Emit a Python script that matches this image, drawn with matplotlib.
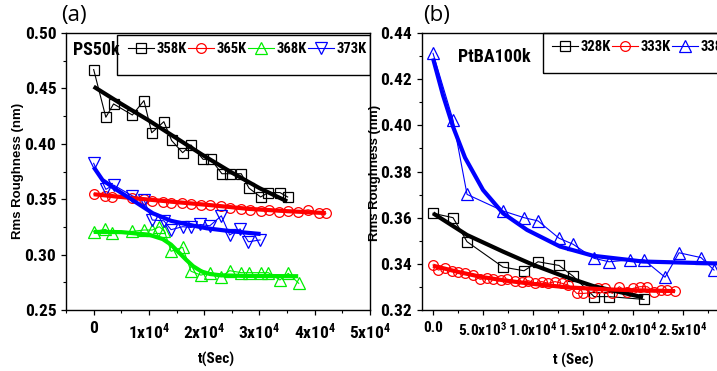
import matplotlib
matplotlib.use("Agg")
import matplotlib.pyplot as plt
from matplotlib import font_manager
from matplotlib.patches import Rectangle
from matplotlib.ticker import MultipleLocator, FormatStrFormatter

# the chart uses a narrow bold face; take the first condensed one we can find
fonts = font_manager.fontManager.ttflist
narrow, stretch = None, 'normal'
for want in ['Liberation Sans Narrow', 'Arial Narrow', 'Roboto Condensed', 'Open Sans Condensed',
             'Noto Sans', 'DejaVu Sans', 'Open Sans', 'Roboto']:
    hit = [f for f in fonts if f.name == want and
           (f.stretch in ('condensed', 'semi-condensed', 'extra-condensed') or
            (isinstance(f.stretch, int) and f.stretch < 100) or 'Narrow' in f.name or 'Condensed' in f.name)]
    if hit:
        narrow, stretch = want, 'condensed'
        break
if narrow is None:
    narrow = 'Liberation Sans'
k = 1.0 if stretch == 'condensed' else 0.88   # shrink a bit if only normal width is there

plt.rcParams['font.family'] = [narrow, 'DejaVu Sans']
plt.rcParams['font.weight'] = 'bold'
plt.rcParams['font.stretch'] = stretch
plt.rcParams['mathtext.fontset'] = 'custom'
for key in ('mathtext.rm', 'mathtext.it', 'mathtext.bf'):
    plt.rcParams[key] = narrow + ':weight=bold:stretch=' + stretch

# ---- panel (a): PS50k ----
t358 = [0, 2200, 3600, 7000, 9100, 10500, 12700, 14100, 16100, 17600, 19800, 21200,
        23200, 24600, 26700, 28100, 30200, 31600, 33700, 35100]
r358 = [0.467, 0.424, 0.436, 0.426, 0.439, 0.410, 0.420, 0.403, 0.392, 0.399, 0.386, 0.386,
        0.373, 0.373, 0.373, 0.360, 0.352, 0.356, 0.356, 0.352]
t365 = [0, 2100, 3400, 7000, 9100, 10600, 12500, 14000, 15900, 17600, 19400, 21000,
        23000, 24600, 26700, 28200, 30300, 31800, 33500, 35200, 37000, 38800, 40800, 42000]
r365 = [0.3547, 0.3528, 0.3516, 0.3508, 0.3499, 0.3487, 0.3478, 0.3469, 0.3463, 0.3457, 0.3450, 0.3447,
        0.3435, 0.3425, 0.3412, 0.3406, 0.3398, 0.3400, 0.3388, 0.3390, 0.3388, 0.3405, 0.3378, 0.3373]
t368 = [0, 2100, 3400, 7000, 9100, 10600, 11900, 12800, 14000, 16100, 17600, 19400,
        21100, 23100, 24600, 26700, 28100, 30200, 31600, 33700, 35200, 37100]
r368 = [0.3207, 0.3228, 0.3192, 0.3210, 0.3222, 0.3222, 0.3252, 0.3210, 0.3030, 0.3066, 0.2850, 0.2815,
        0.2837, 0.2801, 0.2855, 0.2837, 0.2837, 0.2837, 0.2837, 0.2771, 0.2831, 0.2741]
t373 = [0, 2200, 3600, 7000, 9100, 10600, 12700, 14000, 16100, 17600, 19300, 21000,
        23100, 24600, 26500, 28000, 30100]
r373 = [0.3824, 0.3589, 0.3628, 0.3530, 0.3493, 0.3312, 0.3305, 0.3225, 0.3252, 0.3245, 0.3272, 0.3260,
        0.3350, 0.3177, 0.3232, 0.3116, 0.3132]

# fitted curves
f358_t = [0, 5000, 10000, 15000, 20000, 25000, 30000, 35000]
f358_r = [0.4516, 0.4360, 0.4210, 0.4050, 0.3890, 0.3740, 0.3600, 0.3480]
f365_t = [0, 7000, 14000, 21000, 28000, 35000, 42000]
f365_r = [0.3545, 0.3510, 0.3478, 0.3447, 0.3413, 0.3392, 0.3375]
f368_t = [0, 5000, 10000, 12500, 14000, 15500, 16700, 18000, 19500, 21000, 23000, 27000, 37000]
f368_r = [0.3205, 0.3203, 0.3180, 0.3140, 0.3090, 0.3015, 0.2955, 0.2895, 0.2848, 0.2825, 0.2813, 0.2808, 0.2805]
f373_t = [0, 1600, 4000, 7000, 10700, 14000, 16700, 20400, 25000, 30200]
f373_r = [0.3790, 0.3673, 0.3590, 0.3493, 0.3373, 0.3305, 0.3275, 0.3238, 0.3210, 0.3186]

# ---- panel (b): PtBA100k ----
t328 = [0, 2000, 3400, 7000, 9100, 10500, 12600, 14000, 16100, 17600, 21100]
r328 = [0.3619, 0.3600, 0.3496, 0.3386, 0.3370, 0.3409, 0.3393, 0.3347, 0.3258, 0.3258, 0.3246]
t333 = [0, 530, 1200, 1870, 2530, 3200, 3970, 4700, 5370, 6030, 6770, 7430, 8200, 8870,
        9530, 10200, 10870, 11530, 12200, 12870, 13530, 14370, 15030, 15870, 16530, 17200,
        17930, 18630, 19370, 20030, 20700, 21430, 22100, 22770, 23430, 24200]
r333 = [0.3395, 0.3373, 0.3381, 0.3370, 0.3363, 0.3359, 0.3352, 0.3333, 0.3337, 0.3333, 0.3330, 0.3333,
        0.3327, 0.3323, 0.3327, 0.3318, 0.3323, 0.3316, 0.3323, 0.3316, 0.3308, 0.3272, 0.3272, 0.3275,
        0.3294, 0.3294, 0.3272, 0.3301, 0.3279, 0.3294, 0.3301, 0.3301, 0.3279, 0.3287, 0.3285, 0.3283]
t338 = [0, 2000, 3400, 7000, 9100, 10500, 12600, 14000, 16100, 17600, 19700, 21100,
        23200, 24600, 26800, 28100]
r338 = [0.4312, 0.4023, 0.3701, 0.3629, 0.3600, 0.3586, 0.3511, 0.3485, 0.3424, 0.3409, 0.3417, 0.3417,
        0.3342, 0.3448, 0.3427, 0.3373]

f328_t = [0, 3400, 7000, 10000, 12700, 16000, 21000]
f328_r = [0.3619, 0.3525, 0.3453, 0.3396, 0.3352, 0.3304, 0.3255]
f333_t = [0, 2500, 5000, 7500, 10000, 13500, 17000, 20500, 24200]
f333_r = [0.3392, 0.3365, 0.3342, 0.3326, 0.3313, 0.3298, 0.3290, 0.3285, 0.3282]
f338_t = [0, 1000, 2000, 3200, 5000, 7000, 9400, 12700, 16000, 21000, 28000, 30000]
f338_r = [0.4290, 0.4130, 0.3994, 0.3860, 0.3720, 0.3619, 0.3547, 0.3475, 0.3435, 0.3410, 0.3402, 0.3401]

xt_a = [0, 10000, 20000, 30000, 40000, 50000]
xl_a = ['0', '1x10$^4$', '2x10$^4$', '3x10$^4$', '4x10$^4$', '5x10$^4$']
xt_b = [0, 5000, 10000, 15000, 20000, 25000]
xl_b = ['0.0', '5.0x10$^3$', '1.0x10$^4$', '1.5x10$^4$', '2.0x10$^4$', '2.5x10$^4$']

fig = plt.figure(figsize=(7.17, 3.71), dpi=100)
ax1 = fig.add_axes([0.0921, 0.1644, 0.424, 0.7466])
ax2 = fig.add_axes([0.5886, 0.1644, 0.424, 0.7466])


def series(ax, t, r, c, m, ms):
    return ax.plot(t, r, color=c, lw=0.8, marker=m, ms=ms, mfc='none', mec=c, mew=0.9, zorder=2)[0]


def fit(ax, t, r, c):
    ax.plot(t, r, color=c, lw=3.0, solid_capstyle='butt', zorder=3)


h = []
h.append(series(ax1, t358, r358, 'black', 's', 6.5))
h.append(series(ax1, t365, r365, 'red', 'o', 7))
h.append(series(ax1, t368, r368, '#00ee00', '^', 8))
h.append(series(ax1, t373, r373, 'blue', 'v', 8))
fit(ax1, f358_t, f358_r, 'black')
fit(ax1, f365_t, f365_r, 'red')
fit(ax1, f368_t, f368_r, '#00ee00')
fit(ax1, f373_t, f373_r, 'blue')

g = []
g.append(series(ax2, t328, r328, 'black', 's', 6.5))
g.append(series(ax2, t333, r333, 'red', 'o', 7))
g.append(series(ax2, t338, r338, 'blue', '^', 8))
fit(ax2, f328_t, f328_r, 'black')
fit(ax2, f333_t, f333_r, 'red')
fit(ax2, f338_t, f338_r, 'blue')

ax1.set_xlim(-5000, 50000)
ax1.set_ylim(0.25, 0.50)
ax1.set_xticks(xt_a)
ax1.set_xticklabels(xl_a)
ax1.yaxis.set_major_locator(MultipleLocator(0.05))
ax1.yaxis.set_minor_locator(MultipleLocator(0.025))
ax1.xaxis.set_minor_locator(MultipleLocator(5000))
ax1.yaxis.set_major_formatter(FormatStrFormatter('%.2f'))

ax2.set_xlim(-1100, 29300)
ax2.set_ylim(0.32, 0.44)
ax2.set_xticks(xt_b)
ax2.set_xticklabels(xl_b)
ax2.yaxis.set_major_locator(MultipleLocator(0.02))
ax2.yaxis.set_minor_locator(MultipleLocator(0.01))
ax2.xaxis.set_minor_locator(MultipleLocator(2500))
ax2.yaxis.set_major_formatter(FormatStrFormatter('%.2f'))

for ax in (ax1, ax2):
    for s in ax.spines.values():
        s.set_linewidth(1.0)
    ax.tick_params(which='major', direction='out', length=3.5, width=0.9, labelsize=12.5 * k, pad=3.5)
    ax.tick_params(which='minor', direction='out', length=2, width=0.8)
    ax.tick_params(axis='x', which='major', pad=4.5)
# the (b) time labels are long, keep them from running together
ax2.tick_params(axis='x', which='major', labelsize=11 * k)

# legends with their own box
leg1 = ax1.legend(handles=h, labels=['358K', '365K', '368K', '373K'], ncol=4, frameon=False,
                  loc='center left', bbox_to_anchor=(0.204, 0.942), borderpad=0, borderaxespad=0,
                  handlelength=1.75, handletextpad=0.2, columnspacing=0.1, fontsize=10.5 * k)
ax1.add_patch(Rectangle((0.168, 0.848), 0.832, 0.145, transform=ax1.transAxes, fill=False,
                        lw=1.0, ec='black', zorder=5))
leg2 = ax2.legend(handles=g, labels=['328K', '333K', '338K'], ncol=3, frameon=False,
                  loc='center left', bbox_to_anchor=(0.428, 0.949), borderpad=0, borderaxespad=0,
                  handlelength=1.75, handletextpad=0.2, columnspacing=0.1, fontsize=10.5 * k)
ax2.add_patch(Rectangle((0.398, 0.856), 0.8, 0.144, transform=ax2.transAxes, fill=False,
                        lw=1.0, ec='black', zorder=5, clip_on=False))

ax1.text(0.023, 0.939, 'PS50k', transform=ax1.transAxes, fontsize=13 * k, fontweight='bold', va='center')
ax2.text(0.118, 0.913, 'PtBA100k', transform=ax2.transAxes, fontsize=13 * k, fontweight='bold', va='center')

fig.text(61 / 717, 1 - 16 / 371, '(a)', fontsize=16, fontweight='normal', fontstretch='normal',
         family=['Open Sans', 'DejaVu Sans'], va='center')
fig.text(423 / 717, 1 - 16 / 371, '(b)', fontsize=16, fontweight='normal', fontstretch='normal',
         family=['Open Sans', 'DejaVu Sans'], va='center')

fig.text(18 / 717, 1 - 171 / 371, 'Rms Roughness (nm)', rotation=90, ha='center', va='center',
         fontsize=9.5, fontweight='bold', fontstretch='normal', family=['Liberation Sans', 'DejaVu Sans'])
fig.text(375 / 717, 1 - 173 / 371, 'Rms Roughness (nm)', rotation=90, ha='center', va='center',
         fontsize=9.5, fontweight='bold', fontstretch='normal', family=['Liberation Sans', 'DejaVu Sans'])
fig.text(216 / 717, 1 - 359 / 371, 't(Sec)', ha='center', va='center', fontsize=11 * k, fontweight='bold')
fig.text(573 / 717, 1 - 360 / 371, 't (Sec)', ha='center', va='center', fontsize=11 * k, fontweight='bold')

fig.savefig('out.png', dpi=100)
